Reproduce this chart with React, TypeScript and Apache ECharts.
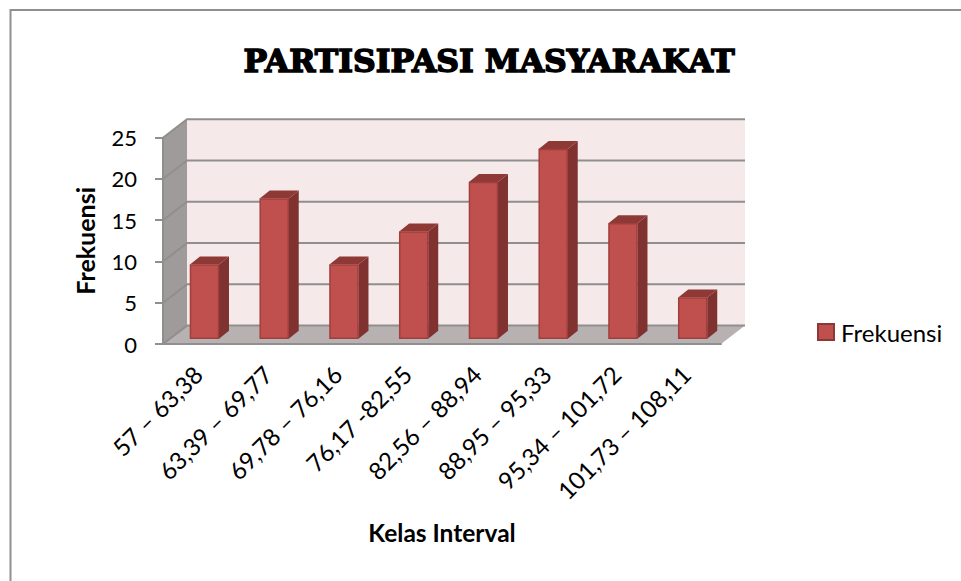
import React, { useEffect, useRef } from "react";
import * as echarts from "echarts";

const chartTitle = "PARTISIPASI MASYARAKAT";
const categories = [
  "57 – 63,38",
  "63,39 – 69,77",
  "69,78 – 76,16",
  "76,17 -82,55",
  "82,56 – 88,94",
  "88,95 – 95,33",
  "95,34 – 101,72",
  "101,73 – 108,11",
];
const frekuensi = [9, 17, 9, 13, 19, 23, 14, 5];
const yTicks = [0, 5, 10, 15, 20, 25];

const DEPTH_X = 24;
const DEPTH_Y = 18.4;
const BAR_OFF_X = 6.6;
const BAR_OFF_Y = 5.3;
const BAR_DEPTH_X = 10;
const BAR_DEPTH_Y = 8;
const BAR_RATIO = 0.416;
const LABEL_FONT = "Lato, Carlito, sans-serif";

function poly(points: number[][], fill: string, stroke?: string, lineWidth = 1) {
  return {
    type: "polygon",
    shape: { points },
    style: { fill, stroke: stroke ?? "none", lineWidth },
  };
}

function renderWalls(params: any) {
  const { x, y, width, height } = params.coordSys;
  const b = y + height;
  const r = x + width;
  return {
    type: "group",
    children: [
      poly([[x + DEPTH_X, y - DEPTH_Y], [r + DEPTH_X, y - DEPTH_Y], [r + DEPTH_X, b - DEPTH_Y], [x + DEPTH_X, b - DEPTH_Y]], "#f5e9e9"),
      poly([[x, y], [x + DEPTH_X, y - DEPTH_Y], [x + DEPTH_X, b - DEPTH_Y], [x, b]], "#a09b9b"),
      poly([[x, b], [x + DEPTH_X, b - DEPTH_Y], [r + DEPTH_X, b - DEPTH_Y], [r, b]], "#b8b1b1"),
    ],
  };
}

function renderGridLine(params: any, api: any) {
  const { x, width } = params.coordSys;
  const yv = api.coord([0, api.value(1)])[1];
  return {
    type: "polyline",
    shape: {
      points: [[x, yv], [x + DEPTH_X, yv - DEPTH_Y], [x + width + DEPTH_X, yv - DEPTH_Y]],
    },
    style: { fill: "none", stroke: "#8f8f8f", lineWidth: 2 },
  };
}

function renderBar(_params: any, api: any) {
  const band = api.size([1, 0])[0];
  const w = band * BAR_RATIO;
  const base = api.coord([api.value(0), 0]);
  const top = api.coord([api.value(0), api.value(1)]);
  const l = base[0] + BAR_OFF_X - w / 2;
  const r = l + w;
  const b = base[1] - BAR_OFF_Y;
  const t = top[1] - BAR_OFF_Y;
  return {
    type: "group",
    children: [
      poly([[r, b], [r + BAR_DEPTH_X, b - BAR_DEPTH_Y], [r + BAR_DEPTH_X, t - BAR_DEPTH_Y], [r, t]], "#7f3230"),
      poly([[l, t], [l + BAR_DEPTH_X, t - BAR_DEPTH_Y], [r + BAR_DEPTH_X, t - BAR_DEPTH_Y], [r, t]], "#8f3937"),
      {
        type: "rect",
        shape: { x: l + 0.5, y: t + 0.5, width: w - 1, height: b - t - 1 },
        style: { fill: "#c0504d", stroke: "#a03f3d", lineWidth: 1.5 },
      },
    ],
  };
}

export default function App() {
  const ref = useRef<HTMLDivElement>(null);
  useEffect(() => {
    const chart = echarts.init(ref.current!, undefined, { renderer: "svg" });
    chart.setOption({
      animation: false,
      backgroundColor: "#ffffff",
      title: {
        text: chartTitle,
        left: 484,
        top: 39,
        textAlign: "center",
        textStyle: {
          fontFamily: "'DejaVu Serif', serif",
          fontWeight: "bold",
          fontSize: 31.5,
          color: "#000000",
          textBorderColor: "#000000",
          textBorderWidth: 1.5,
        },
      },
      legend: {
        data: ["Frekuensi"],
        left: 817,
        top: 320,
        padding: 0,
        icon: "rect",
        itemWidth: 16,
        itemHeight: 16,
        textStyle: { fontFamily: LABEL_FONT, fontSize: 24, color: "#000000", padding: [0, 0, 2, 2] },
      },
      grid: { left: 163, top: 137.7, width: 558, height: 206.3, containLabel: false },
      xAxis: {
        type: "category",
        data: categories,
        name: "Kelas Interval",
        nameLocation: "middle",
        nameGap: 176,
        nameTextStyle: { fontFamily: LABEL_FONT, fontWeight: "bold", fontSize: 24.5, color: "#000000" },
        z: 5,
        axisLine: { show: true, lineStyle: { color: "#8f8f8f", width: 2 } },
        axisTick: { show: false },
        axisLabel: {
          rotate: 45,
          interval: 0,
          margin: 26,
          fontFamily: LABEL_FONT,
          fontSize: 24,
          color: "#000000",
        },
      },
      yAxis: {
        type: "value",
        min: 0,
        max: 25,
        interval: 5,
        name: "Frekuensi",
        nameLocation: "middle",
        nameGap: 66,
        nameTextStyle: { fontFamily: LABEL_FONT, fontWeight: "bold", fontSize: 25, color: "#000000" },
        z: 5,
        splitLine: { show: false },
        axisLine: { show: true, lineStyle: { color: "#8f8f8f", width: 2 } },
        axisTick: { show: true, length: 8, lineStyle: { color: "#8f8f8f", width: 2 } },
        axisLabel: { margin: 26, fontFamily: LABEL_FONT, fontSize: 22, color: "#000000" },
      },
      graphic: [
        {
          type: "polyline",
          silent: true,
          shape: { points: [[10.5, 581], [10.5, 10], [961, 10]] },
          style: { fill: "none", stroke: "#8f8f8f", lineWidth: 2 },
        },
      ],
      series: [
        {
          name: "walls",
          type: "custom",
          z: 1,
          silent: true,
          renderItem: renderWalls,
          data: [[0, 0]],
        },
        {
          name: "gridlines",
          type: "custom",
          z: 2,
          silent: true,
          renderItem: renderGridLine,
          data: yTicks.map((v) => [0, v]),
        },
        {
          name: "Frekuensi",
          type: "custom",
          z: 3,
          renderItem: renderBar,
          encode: { x: 0, y: 1 },
          itemStyle: { color: "#c0504d", borderColor: "#8c3836", borderWidth: 1.5 },
          data: frekuensi.map((v, i) => [i, v]),
        },
      ],
    });
    return () => chart.dispose();
  }, []);
  return <div ref={ref} style={{ position: "absolute", left: 0, top: 0, width: 961, height: 581 }} />;
}
